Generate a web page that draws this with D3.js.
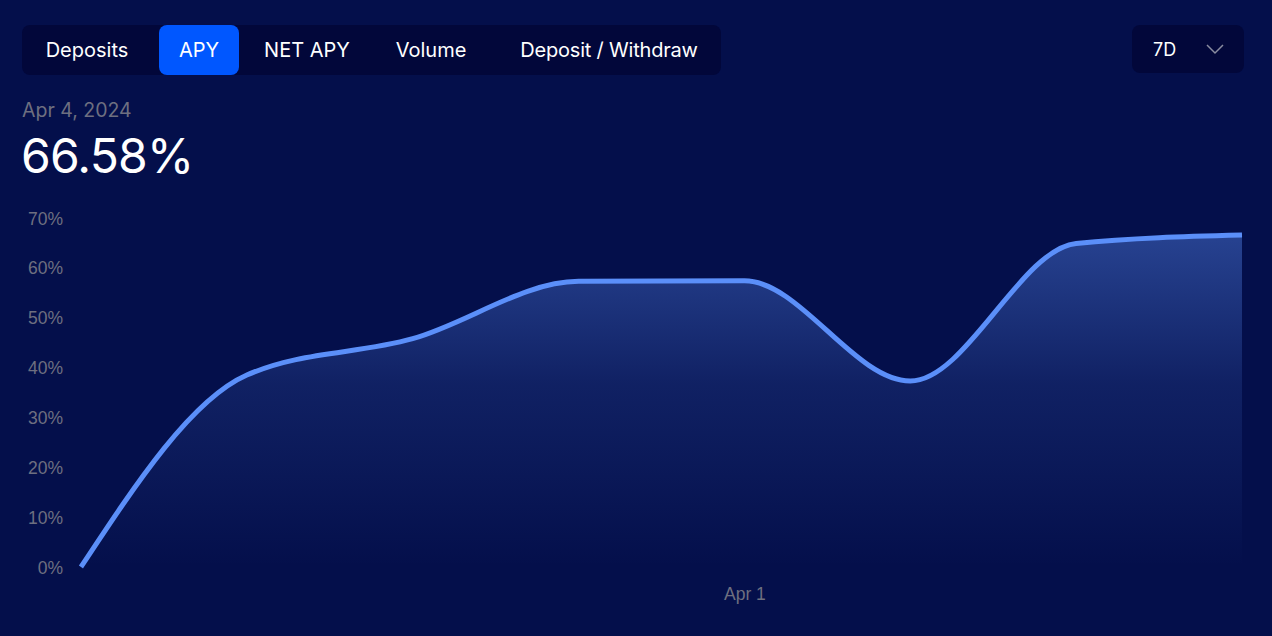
<!DOCTYPE html>
<html>
<head>
<meta charset="utf-8">
<script src="https://cdn.jsdelivr.net/npm/d3@7"></script>
<style>
  html, body { margin: 0; padding: 0; background: #040f4b; }
  svg { display: block; }
</style>
</head>
<body>
<svg id="chart" width="1272" height="636"></svg>
<script>
// Daily APY over the last 7 days
const dates = ["2024-03-28", "2024-03-29", "2024-03-30", "2024-03-31",
               "2024-04-01", "2024-04-02", "2024-04-03", "2024-04-04"];
const apy = [0, 38.5, 45.8, 57.3, 57.4, 37.3, 64.9, 66.58];
const yTicks = [0, 10, 20, 30, 40, 50, 60, 70];
const xTicks = ["2024-04-01"];
const tabs = ["Deposits", "APY", "NET APY", "Volume", "Deposit / Withdraw"];
const activeTab = "APY";
const range = "7D";

const parse = d3.timeParse("%Y-%m-%d");
const data = dates.map((d, i) => ({ date: parse(d), value: apy[i] }));

const svg = d3.select("#chart");
const W = 1272, H = 636;
const bg = "#040f4b";
const panel = "#02073a";
const lineColor = "#5b8ff9";
const muted = "#6e6f80";
const uiFont = "Inter, 'Open Sans', sans-serif";
const axisFont = "'Liberation Sans', Arial, sans-serif";

svg.append("rect").attr("width", W).attr("height", H).attr("fill", bg);

// ---- tab bar ----
const tabBar = svg.append("g");
tabBar.append("rect")
  .attr("x", 22).attr("y", 25).attr("width", 699).attr("height", 50)
  .attr("rx", 8).attr("fill", panel);

const tabCenters = [87, 199, 307, 431, 609];
const tabWidths = [0, 80, 0, 0, 0];
tabs.forEach((t, i) => {
  if (t === activeTab) {
    tabBar.append("rect")
      .attr("x", tabCenters[i] - tabWidths[i] / 2).attr("y", 25)
      .attr("width", tabWidths[i]).attr("height", 50)
      .attr("rx", 8).attr("fill", "#0057ff");
  }
  tabBar.append("text")
    .attr("x", tabCenters[i]).attr("y", 57)
    .attr("text-anchor", "middle")
    .attr("font-family", uiFont).attr("font-size", 20)
    .attr("letter-spacing", t.includes("/") ? -0.2 : 0)
    .attr("fill", "#ffffff")
    .text(t);
});

// ---- range selector ----
const sel = svg.append("g");
sel.append("rect")
  .attr("x", 1132).attr("y", 25).attr("width", 112).attr("height", 48)
  .attr("rx", 8).attr("fill", panel);
sel.append("text")
  .attr("x", 1153).attr("y", 56)
  .attr("font-family", uiFont).attr("font-size", 18)
  .attr("fill", "#ffffff").text(range);
sel.append("path")
  .attr("d", "M1207,45 L1215,53 L1223,45")
  .attr("fill", "none").attr("stroke", "#8a8ca0").attr("stroke-width", 1.5);

// ---- headline ----
const last = data[data.length - 1];
svg.append("text")
  .attr("x", 22).attr("y", 117)
  .attr("font-family", uiFont).attr("font-size", 19.5)
  .attr("fill", muted)
  .text(d3.timeFormat("%b %-d, %Y")(last.date));
svg.append("text")
  .attr("x", 21).attr("y", 173)
  .attr("font-family", uiFont).attr("font-size", 48)
  .attr("letter-spacing", -0.8)
  .attr("fill", "#ffffff")
  .text(last.value.toFixed(2) + "%");

// ---- scales ----
const x = d3.scaleTime()
  .domain(d3.extent(data, d => d.date))
  .range([81, 1242]);
const y = d3.scaleLinear()
  .domain([0, 70])
  .range([567, 218]);

// ---- area fill ----
const defs = svg.append("defs");
const grad = defs.append("linearGradient")
  .attr("id", "apyFill").attr("x1", 0).attr("y1", 0).attr("x2", 0).attr("y2", 1);
grad.append("stop").attr("offset", "0%").attr("stop-color", lineColor).attr("stop-opacity", 0.4);
grad.append("stop").attr("offset", "45%").attr("stop-color", lineColor).attr("stop-opacity", 0.14);
grad.append("stop").attr("offset", "100%").attr("stop-color", lineColor).attr("stop-opacity", 0);

const area = d3.area()
  .curve(d3.curveMonotoneX)
  .x(d => x(d.date))
  .y0(y(0))
  .y1(d => y(d.value));
svg.append("path").datum(data)
  .attr("d", area)
  .attr("fill", "url(#apyFill)");

const line = d3.line()
  .curve(d3.curveMonotoneX)
  .x(d => x(d.date))
  .y(d => y(d.value));
svg.append("path").datum(data)
  .attr("d", line)
  .attr("fill", "none")
  .attr("stroke", lineColor)
  .attr("stroke-width", 5);

// ---- axes ----
const yAxis = svg.append("g")
  .attr("transform", "translate(63,0)")
  .call(d3.axisLeft(y).tickValues(yTicks).tickFormat(d => d + "%").tickSize(0).tickPadding(0));
yAxis.select(".domain").remove();
yAxis.selectAll("text")
  .attr("font-family", axisFont).attr("font-size", 17.5)
  .attr("fill", muted).attr("dy", "0.35em");

const xAxis = svg.append("g")
  .attr("transform", "translate(0,588)")
  .call(d3.axisBottom(x).tickValues(xTicks.map(parse)).tickFormat(d3.timeFormat("%b %-d")).tickSize(0).tickPadding(0));
xAxis.select(".domain").remove();
xAxis.selectAll("text")
  .attr("font-family", axisFont).attr("font-size", 17.5)
  .attr("fill", muted).attr("dy", "0.71em");
</script>
</body>
</html>
